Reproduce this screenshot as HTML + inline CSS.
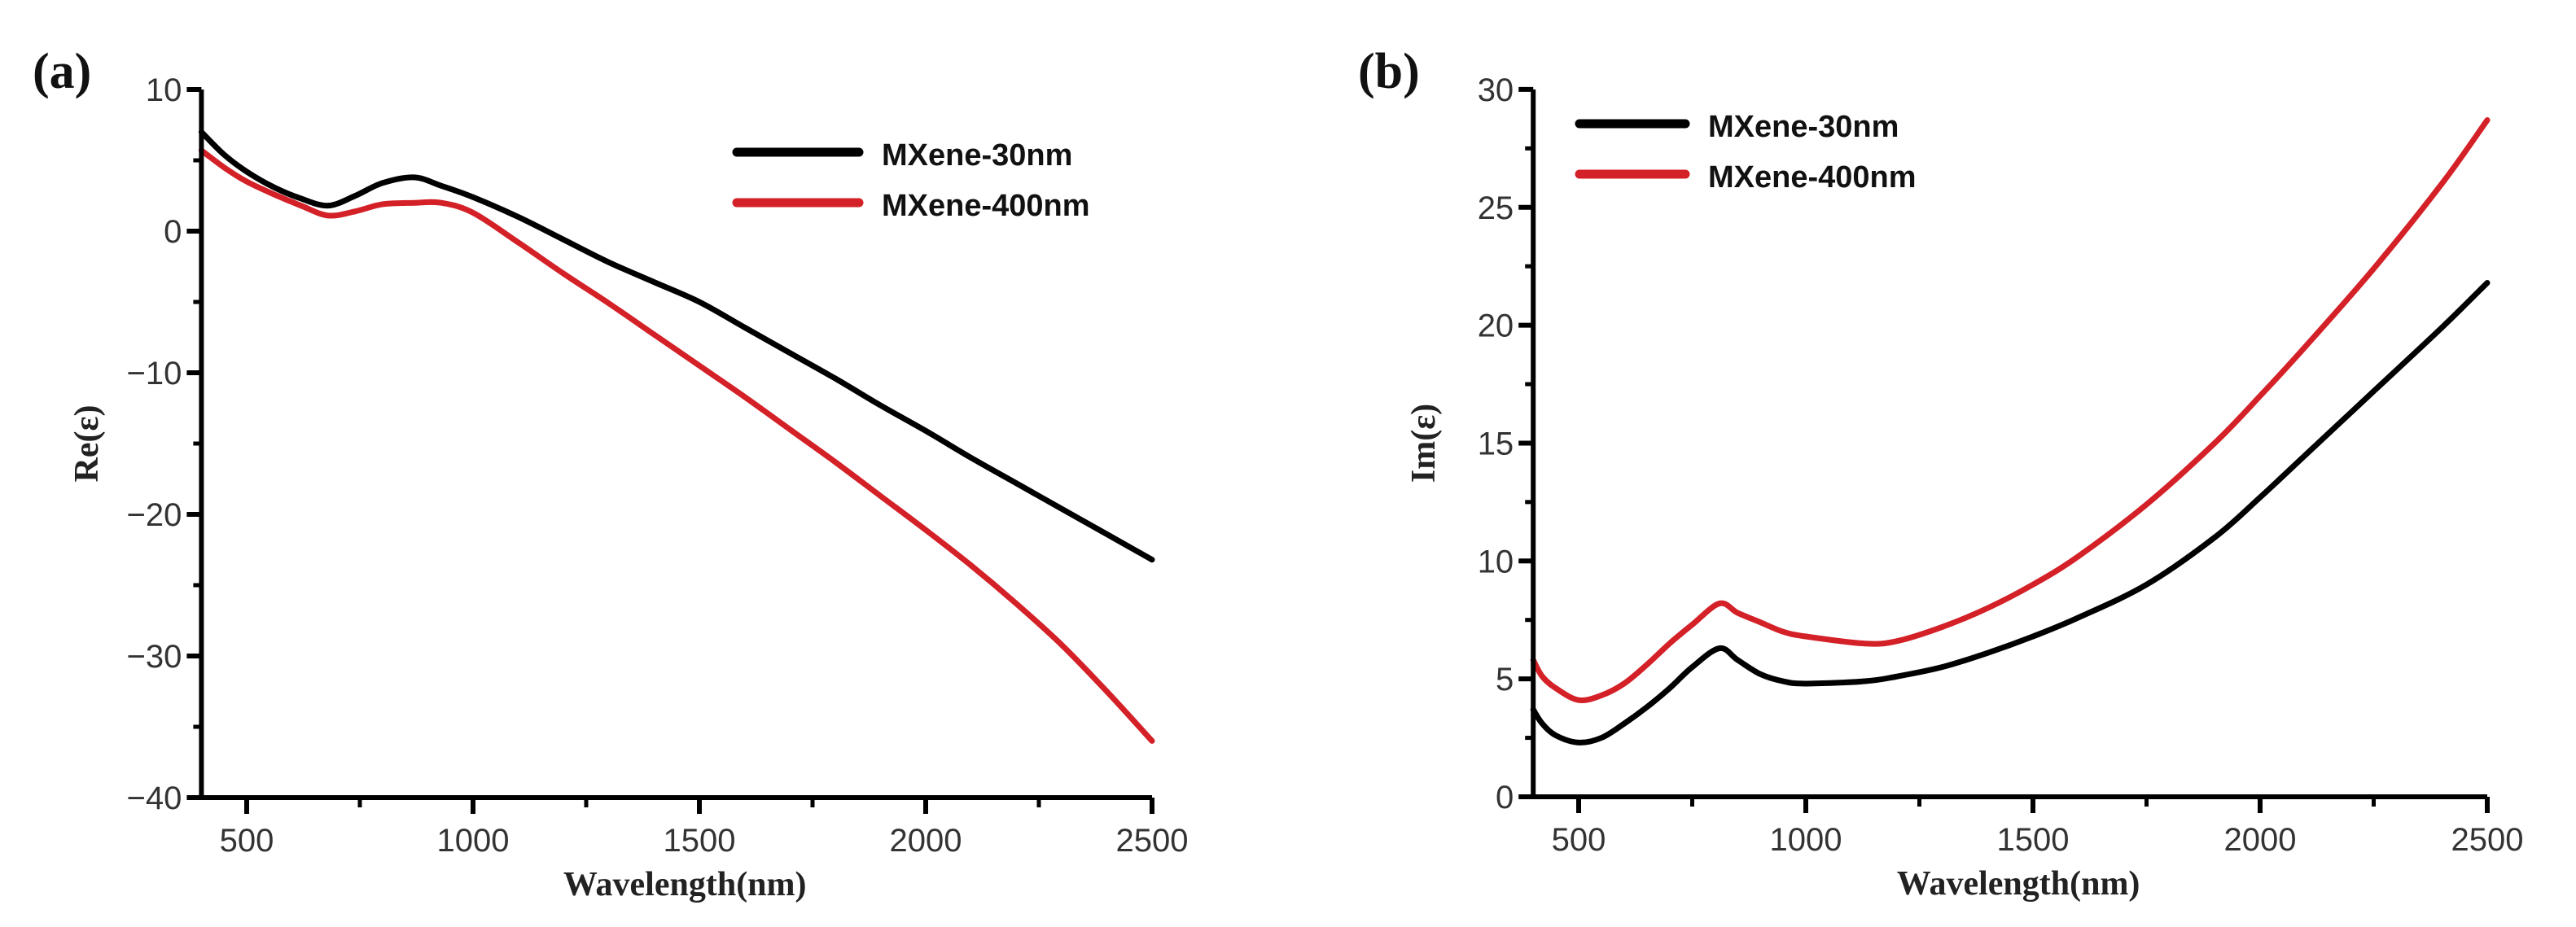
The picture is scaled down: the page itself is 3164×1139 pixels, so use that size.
<!DOCTYPE html>
<html><head><meta charset="utf-8"><style>
html,body{margin:0;padding:0;background:#fff;}
svg{display:block;}
.tick{font-family:"Liberation Sans",Arial,sans-serif;font-size:40px;fill:#333;}
.title{font-family:"Liberation Serif",serif;font-weight:bold;font-size:42px;fill:#222;}
.leg{font-family:"Liberation Sans",Arial,sans-serif;font-weight:bold;font-size:38px;fill:#111;}
.panel{font-family:"Liberation Serif",serif;font-weight:bold;font-size:62px;fill:#111;}
</style></head><body>
<svg id="fig" width="3164" height="1139" viewBox="0 0 3164 1139"></svg>
<script>
const wavelengthsA = [400,450,500,560,620,680,740,800,870,930,1000,1100,1200,1300,1400,1500,1600,1700,1800,1900,2000,2100,2200,2300,2400,2500];
const reThin = [7,5.4,4.2,3.1,2.3,1.8,2.5,3.4,3.8,3.2,2.4,1,-0.6,-2.2,-3.6,-5,-6.8,-8.6,-10.4,-12.3,-14.1,-16,-17.8,-19.6,-21.4,-23.2];
const reThick = [5.7,4.5,3.5,2.6,1.8,1.1,1.4,1.9,2.0,2.0,1.3,-0.8,-3.0,-5.1,-7.3,-9.5,-11.7,-14.0,-16.3,-18.7,-21.1,-23.6,-26.3,-29.2,-32.5,-36];
const wavelengthsB = [400,420,450,500,550,600,650,700,750,810,850,900,950,1000,1130,1200,1300,1400,1500,1600,1750,1900,2000,2100,2250,2400,2500];
const imThin = [3.7,3.1,2.6,2.3,2.5,3.1,3.8,4.6,5.5,6.3,5.8,5.2,4.9,4.8,4.9,5.1,5.5,6.1,6.8,7.6,9,11.0,12.7,14.5,17.2,19.9,21.8];
const imThick = [5.8,5.1,4.6,4.1,4.3,4.8,5.6,6.5,7.3,8.2,7.8,7.4,7.0,6.8,6.5,6.6,7.2,8.0,9.0,10.2,12.4,15.0,17,19.1,22.4,26.0,28.7];
const xTicks = [500,1000,1500,2000,2500];
const yTicksA = [10,0,-10,-20,-30,-40];
const yTicksB = [0,5,10,15,20,25,30];
const seriesNames = ["MXene-30nm","MXene-400nm"];

const NS="http://www.w3.org/2000/svg";
const svg=document.getElementById('fig');
function mk(tag,attrs,parent){const e=document.createElementNS(NS,tag);for(const k in attrs)e.setAttribute(k,attrs[k]);(parent||svg).appendChild(e);return e;}
function smooth(pts){let d=`M${pts[0][0]},${pts[0][1]}`;for(let i=0;i<pts.length-1;i++){const p0=pts[i-1]||pts[i],p1=pts[i],p2=pts[i+1],p3=pts[i+2]||p2;const c1=[p1[0]+(p2[0]-p0[0])/6,p1[1]+(p2[1]-p0[1])/6],c2=[p2[0]-(p3[0]-p1[0])/6,p2[1]-(p3[1]-p1[1])/6];d+=` C${c1[0]},${c1[1]} ${c2[0]},${c2[1]} ${p2[0]},${p2[1]}`;}return d;}

function panel(cfg){
  const g=mk('g',{});
  
  
  const X=v=>cfg.x500+(v-500)*cfg.px/500;
  const Y=v=>cfg.y0-(v-cfg.yRef)*cfg.py;
  const left=X(400),right=X(2500),bottom=Y(cfg.yMin),top=Y(cfg.yMax);
  cfg.series.forEach((s,i)=>{
    const p=mk('path',{d:smooth(s.vals.map((v,j)=>[X(cfg.xs[j]),Y(v)])),fill:'none',stroke:s.color,'stroke-width':7,'stroke-linejoin':'round','stroke-linecap':'round'},g);
    
    
  });
  const ax=mk('path',{d:`M${left},${top} V${bottom} H${right}`,fill:'none',stroke:'#000','stroke-width':6},g);
  
  
  xTicks.forEach(t=>{mk('line',{x1:X(t),x2:X(t),y1:bottom,y2:bottom+20,stroke:'#000','stroke-width':6},g);
    const tx=mk('text',{x:X(t),y:bottom+66,'text-anchor':'middle',class:'tick'},g);tx.textContent=t;
    
    });
  for(let t=750;t<2500;t+=500) mk('line',{x1:X(t),x2:X(t),y1:bottom,y2:bottom+12,stroke:'#000','stroke-width':5},g);
  cfg.yTicks.forEach(t=>{mk('line',{x1:left-18,x2:left,y1:Y(t),y2:Y(t),stroke:'#000','stroke-width':6},g);
    const tx=mk('text',{x:left-24,y:Y(t)+14,'text-anchor':'end',class:'tick'},g);tx.textContent=(t<0?'\u2212'+(-t):t);
    
    });
  for(let t=cfg.yMin+cfg.minor;t<cfg.yMax;t+=cfg.minor*2) mk('line',{x1:left-10,x2:left,y1:Y(t),y2:Y(t),stroke:'#000','stroke-width':5},g);
  const xt=mk('text',{x:(left+right)/2+10,y:bottom+120,'text-anchor':'middle',class:'title'},g);xt.textContent='Wavelength(nm)';
  
  
  const yt=mk('text',{x:0,y:0,'text-anchor':'middle',class:'title',transform:`translate(${cfg.ytX},${(top+bottom)/2}) rotate(-90)`},g);yt.textContent=cfg.ytitle;
  
  
  const pl=mk('text',{x:cfg.plX,y:108,class:'panel'},g);pl.textContent=cfg.label;
  
  
  cfg.series.forEach((s,i)=>{
    const ly=cfg.legY+i*62;
    const l=mk('line',{x1:cfg.legX,x2:cfg.legX+cfg.legW,y1:ly,y2:ly,stroke:s.color,'stroke-width':11,'stroke-linecap':'round'},g);
    
    
    const t=mk('text',{x:cfg.legX+cfg.legW+28,y:ly+16,class:'leg'},g);t.textContent=seriesNames[i];
    
    
  });
}
panel({name:'chart-re',x500:303,px:278,y0:284,yRef:0,py:17.4,yMin:-40,yMax:10,yTicks:yTicksA,minor:5,
  xs:wavelengthsA,series:[{name:'line-30nm',color:'#000',vals:reThin},{name:'line-400nm',color:'#d42027',vals:reThick}],
  ytitle:'Re(\u03b5)',ytX:120,plX:40,label:'(a)',legX:905,legW:150,legY:187});
panel({name:'chart-im',x500:1939,px:279,y0:979,yRef:0,py:28.97,yMin:0,yMax:30,yTicks:yTicksB,minor:2.5,
  xs:wavelengthsB,series:[{name:'line-30nm',color:'#000',vals:imThin},{name:'line-400nm',color:'#d42027',vals:imThick}],
  ytitle:'Im(\u03b5)',ytX:1762,plX:1668,label:'(b)',legX:1940,legW:130,legY:152});
</script>
</body></html>
